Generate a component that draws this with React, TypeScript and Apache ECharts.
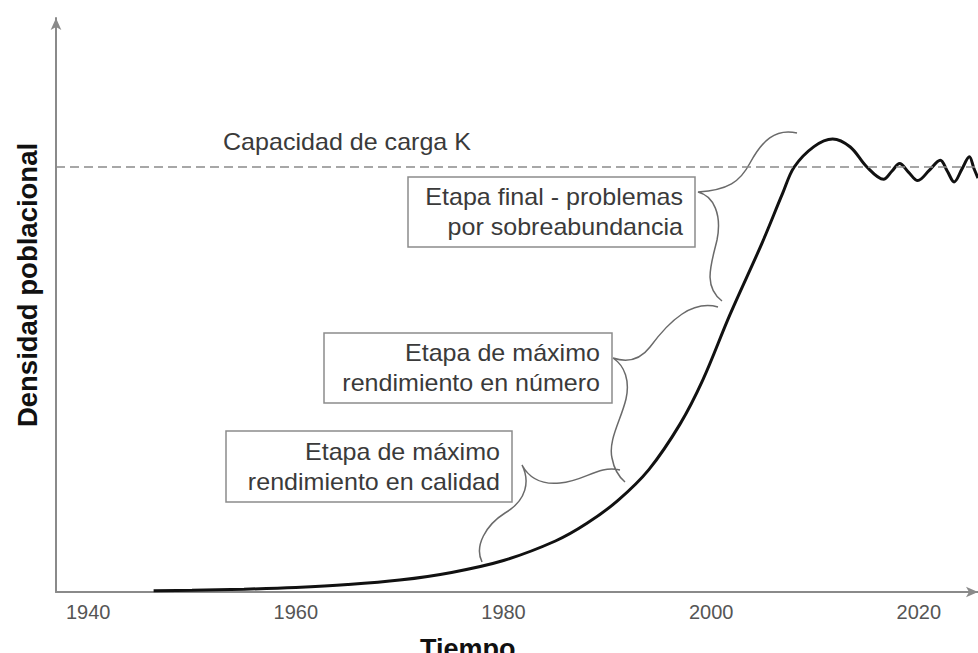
import React, { useEffect, useRef } from "react";
import * as echarts from "echarts";

// ---- data ----
const years = [
  1946.3, 1950, 1955, 1960, 1965, 1970, 1975, 1980, 1985, 1988,
  1991, 1994, 1997, 1999.2, 2001.8, 2004.9, 2006.9, 2008.0, 2009.9, 2011.7,
  2013.4, 2015.0, 2016.6, 2017.4, 2018.15, 2019.0, 2019.9, 2021.0, 2022.07, 2022.75,
  2023.4, 2024.15, 2024.87, 2025.3, 2025.7,
];
const density = [
  0.3, 0.4, 0.66, 1.07, 1.74, 2.8, 4.6, 7.4, 12.0, 16.1,
  21.5, 28.8, 39.5, 49.9, 65.2, 82.1, 93.9, 100, 104.8, 106.6,
  104.7, 100, 97.1, 99.0, 100.8, 98.8, 96.8, 99.2, 101.6, 99.0,
  96.5, 99.5, 102.4, 99.7, 97.4,
];
const carryingCapacity = 100;
const tickYears = [1940, 1960, 1980, 2000, 2020];
const xTitle = "Tiempo";
const yTitle = "Densidad poblacional";
const kLabel = "Capacidad de carga K";
const stageLabels = [
  "Etapa final - problemas\npor sobreabundancia",
  "Etapa de máximo\nrendimiento en número",
  "Etapa de máximo\nrendimiento en calidad",
];

const BRACE_PATH =
  "M 797 133 C 775 128 762 141 750 163 C 740 182 728 190 698 192 C 714 196 722 215 717 240 C 712 262 702 286 722 301 " +
  "M 718 307 C 692 300 670 320 650 347 C 640 360 628 363 613 358 C 625 366 630 381 626 399 C 621 420 608 440 612 458 C 614 469 618 476 625 482 " +
  "M 620 470 C 598 465 585 481 560 483 C 540 485 529 478 522 465 C 530 481 527 500 505 513 C 486 525 474 546 482 562";

echarts.graphic.registerShape("braces", echarts.graphic.extendPath(BRACE_PATH, {}));

const FONT = "Liberation Sans, Arial, sans-serif";
const TEXT_COLOR = "#3a3a3a";
const AXIS_COLOR = "#8a8a8a";

export default function App() {
  const ref = useRef<HTMLDivElement>(null);

  useEffect(() => {
    document.body.style.margin = "0";
    if (!ref.current) return;
    const chart = echarts.init(ref.current, undefined, { renderer: "svg" });

    const boxText = (text: string, right: number, cy: number) => ({
      type: "text",
      x: right,
      y: cy,
      scaleX: 1.09,
      silent: true,
      style: {
        text,
        align: "right",
        verticalAlign: "middle",
        fontSize: 23,
        lineHeight: 30,
        fontFamily: FONT,
        fill: TEXT_COLOR,
      },
    });
    const box = (x: number, y: number, w: number, h: number) => ({
      type: "rect",
      silent: true,
      shape: { x, y, width: w, height: h },
      style: { fill: "#fff", stroke: "#8c8c8c", lineWidth: 1.5 },
    });

    chart.setOption({
      animation: false,
      backgroundColor: "#fff",
      grid: { left: 56, right: 0, top: 18, bottom: 61, outerBoundsMode: "none" },
      xAxis: {
        type: "value",
        min: 1936.9,
        max: 2025.7,
        axisLine: {
          show: true,
          onZero: false,
          symbol: ["none", "arrow"],
          symbolSize: [8, 12],
          lineStyle: { color: AXIS_COLOR, width: 2 },
        },
        axisTick: { show: false },
        splitLine: { show: false },
        axisLabel: {
          customValues: tickYears,
          formatter: (v: number) => String(Math.round(v)),
          fontSize: 20,
          color: "#555",
          margin: 10,
          fontFamily: FONT,
        },
      },
      yAxis: {
        type: "value",
        min: 0,
        max: 135.06,
        axisLine: {
          show: true,
          onZero: false,
          symbol: ["none", "arrow"],
          symbolSize: [8, 12],
          lineStyle: { color: AXIS_COLOR, width: 2 },
        },
        axisTick: { show: false },
        axisLabel: { show: false },
        splitLine: { show: false },
      },
      series: [
        {
          type: "line",
          data: years.map((y, i) => [y, density[i]]),
          smooth: 0.35,
          showSymbol: false,
          lineStyle: { color: "#111", width: 3 },
          markLine: {
            silent: true,
            symbol: ["none", "none"],
            label: { show: false },
            lineStyle: { type: [9, 5], color: AXIS_COLOR, width: 1.5 },
            data: [{ yAxis: carryingCapacity }],
          },
          z: 3,
        },
      ],
      graphic: [
        {
          type: "braces",
          x: 0,
          y: 0,
          silent: true,
          style: { stroke: "#6a6a6a", fill: "none", lineWidth: 1.5 },
        },
        box(408, 177, 287, 70),
        box(324, 333, 288, 70),
        box(226, 431, 286, 71),
        boxText(stageLabels[0], 683, 212),
        boxText(stageLabels[1], 600, 368),
        boxText(stageLabels[2], 500, 467),
        {
          type: "text",
          x: 223,
          y: 142,
          scaleX: 1.09,
          silent: true,
          style: {
            text: kLabel,
            align: "left",
            verticalAlign: "middle",
            fontSize: 23,
            fontFamily: FONT,
            fill: TEXT_COLOR,
          },
        },
        {
          type: "text",
          x: 420,
          y: 649,
          silent: true,
          style: {
            text: xTitle,
            align: "left",
            verticalAlign: "middle",
            fontSize: 27,
            fontWeight: "bold",
            fontFamily: FONT,
            fill: "#111",
          },
        },
        {
          type: "text",
          x: 27.5,
          y: 285,
          rotation: Math.PI / 2,
          silent: true,
          style: {
            text: yTitle,
            align: "center",
            verticalAlign: "middle",
            fontSize: 27.5,
            fontWeight: "bold",
            fontFamily: FONT,
            fill: "#111",
          },
        },
      ],
    });

    return () => chart.dispose();
  }, []);

  return <div ref={ref} style={{ width: 978, height: 653 }} />;
}
